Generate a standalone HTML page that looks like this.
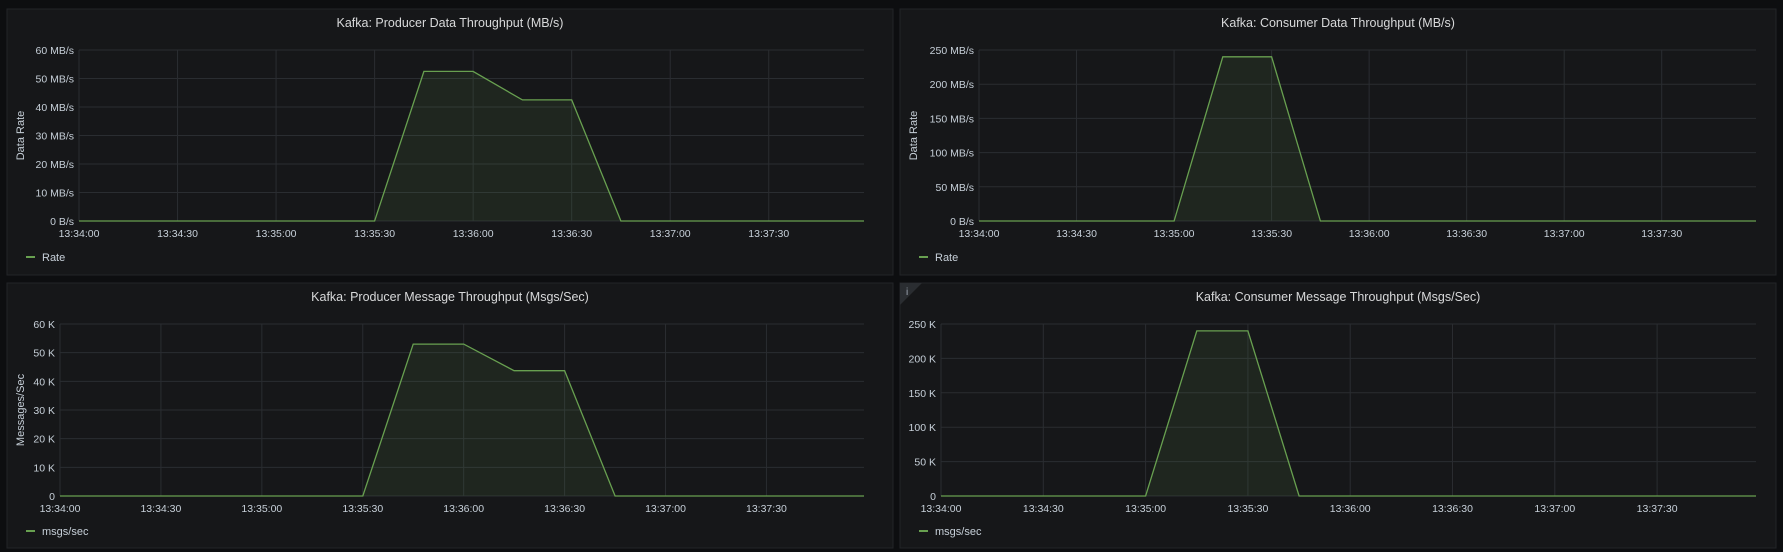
<!DOCTYPE html>
<html><head><meta charset="utf-8">
<style>
html,body{margin:0;padding:0;background:#0d0e10;width:1783px;height:552px;overflow:hidden;font-family:"Liberation Sans",sans-serif;}
svg text{font-family:"Liberation Sans",sans-serif;}
</style></head>
<body>
<svg id="root" width="1783" height="552" xmlns="http://www.w3.org/2000/svg"></svg>
<script>
// time offsets (seconds from 13:34:00)
const xTickLabels = ["13:34:00","13:34:30","13:35:00","13:35:30","13:36:00","13:36:30","13:37:00","13:37:30"];
const producerTimes = [0, 90, 105, 120, 135, 150, 165, 239];
const producerDataRate = [0, 0, 52.5, 52.5, 42.5, 42.5, 0, 0];
const producerMsgRate = [0, 0, 53, 53, 43.7, 43.7, 0, 0];
const consumerTimes = [0, 60, 75, 90, 105, 239];
const consumerDataRate = [0, 0, 240, 240, 0, 0];
const consumerMsgRate = [0, 0, 240, 240, 0, 0];
const prodDataTicks = ["0 B/s","10 MB/s","20 MB/s","30 MB/s","40 MB/s","50 MB/s","60 MB/s"];
const consDataTicks = ["0 B/s","50 MB/s","100 MB/s","150 MB/s","200 MB/s","250 MB/s"];
const prodMsgTicks = ["0","10 K","20 K","30 K","40 K","50 K","60 K"];
const consMsgTicks = ["0","50 K","100 K","150 K","200 K","250 K"];

const NS = "http://www.w3.org/2000/svg";
const root = document.getElementById('root');
function mk(tag, attrs, parent){const e=document.createElementNS(NS,tag);for(const k in attrs)e.setAttribute(k,attrs[k]);(parent||root).appendChild(e);return e;}

const panels = [
 {name:"producer-data", title:"Kafka: Producer Data Throughput (MB/s)", px:7,py:9,pw:886,ph:266, x0:79,x1:864,y0:50,y1:221, ymax:60, yticks:prodDataTicks, t:producerTimes, v:producerDataRate, ylabel:"Data Rate", legend:"Rate"},
 {name:"consumer-data", title:"Kafka: Consumer Data Throughput (MB/s)", px:900,py:9,pw:876,ph:266, x0:979,x1:1756,y0:50,y1:221, ymax:250, yticks:consDataTicks, t:consumerTimes, v:consumerDataRate, ylabel:"Data Rate", legend:"Rate"},
 {name:"producer-messages", title:"Kafka: Producer Message Throughput (Msgs/Sec)", px:7,py:283,pw:886,ph:265, x0:60,x1:864,y0:324,y1:496, ymax:60, yticks:prodMsgTicks, t:producerTimes, v:producerMsgRate, ylabel:"Messages/Sec", legend:"msgs/sec"},
 {name:"consumer-messages", title:"Kafka: Consumer Message Throughput (Msgs/Sec)", px:900,py:283,pw:876,ph:265, x0:941,x1:1756,y0:324,y1:496, ymax:250, yticks:consMsgTicks, t:consumerTimes, v:consumerMsgRate, ylabel:null, legend:"msgs/sec", info:true}
];
const TMAX = 239;

panels.forEach(p=>{
  const g = mk('g',{});
  
  
  const bg = mk('rect',{x:p.px,y:p.py,width:p.pw,height:p.ph,fill:'#161719',stroke:'#222427','stroke-width':1},g);
  
  
  const title = mk('text',{x:p.px+p.pw/2,y:p.py+18,'text-anchor':'middle','font-size':12.5,fill:'#d8d9da'},g);
  title.textContent = p.title;
  
  
  if(p.info){
    const tri = mk('path',{d:`M${p.px} ${p.py} L${p.px+22} ${p.py} L${p.px} ${p.py+22} Z`,fill:'#2a2d31'},g);
    
    
    const it = mk('text',{x:p.px+6,y:p.py+12,'font-size':10,fill:'#9fa7b3','font-family':'Liberation Serif'},g);
    it.textContent='i';
    
    
  }
  const xs = t => p.x0 + (t/TMAX)*(p.x1-p.x0);
  const ys = v => p.y1 - (v/p.ymax)*(p.y1-p.y0);
  const n = p.yticks.length;
  for(let i=0;i<n;i++){
    const val = p.ymax*i/(n-1);
    const y = ys(val);
    const gl = mk('line',{x1:p.x0,x2:p.x1,y1:y,y2:y,stroke:'#2a2d31','stroke-width':1},g);
    
    
    const tl = mk('text',{x:p.x0-5,y:y+4,'text-anchor':'end','font-size':10.5,fill:'#c7d0d9'},g);
    tl.textContent = p.yticks[i];
    
    
  }
  xTickLabels.forEach((lab,i)=>{
    const x = xs(i*30);
    const gl = mk('line',{x1:x,x2:x,y1:p.y0,y2:p.y1,stroke:'#2a2d31','stroke-width':1},g);
    
    
    const tl = mk('text',{x:x,y:p.y1+16,'text-anchor':'middle','font-size':10.5,fill:'#c7d0d9'},g);
    tl.textContent = lab;
    
    
  });
  if(p.ylabel){
    const cy=(p.y0+p.y1)/2, cx=p.px+17;
    const yl = mk('text',{x:cx,y:cy,'text-anchor':'middle','font-size':11,fill:'#c7d0d9',transform:`rotate(-90 ${cx} ${cy})`},g);
    yl.textContent=p.ylabel;
    
    
  }
  let d='';
  p.t.forEach((t,i)=>{d+=(i?'L':'M')+xs(t).toFixed(1)+' '+ys(p.v[i]).toFixed(1)+' ';});
  const area = mk('path',{d:d+`L${xs(p.t[p.t.length-1])} ${ys(0)} L${xs(p.t[0])} ${ys(0)} Z`,fill:'rgba(100,150,80,0.12)'},g);
  
  
  const line = mk('path',{d:d,fill:'none',stroke:'#68a050','stroke-width':1.3},g);
  
  
  const ly = p.py + 248;
  const lg = mk('g',{},g);
  
  
  mk('line',{x1:p.px+19,x2:p.px+28,y1:ly,y2:ly,stroke:'#68a050','stroke-width':2},lg);
  const lt = mk('text',{x:p.px+35,y:ly+4,'font-size':11,fill:'#c7d0d9'},lg);
  lt.textContent=p.legend;
});
</script>
</body></html>
